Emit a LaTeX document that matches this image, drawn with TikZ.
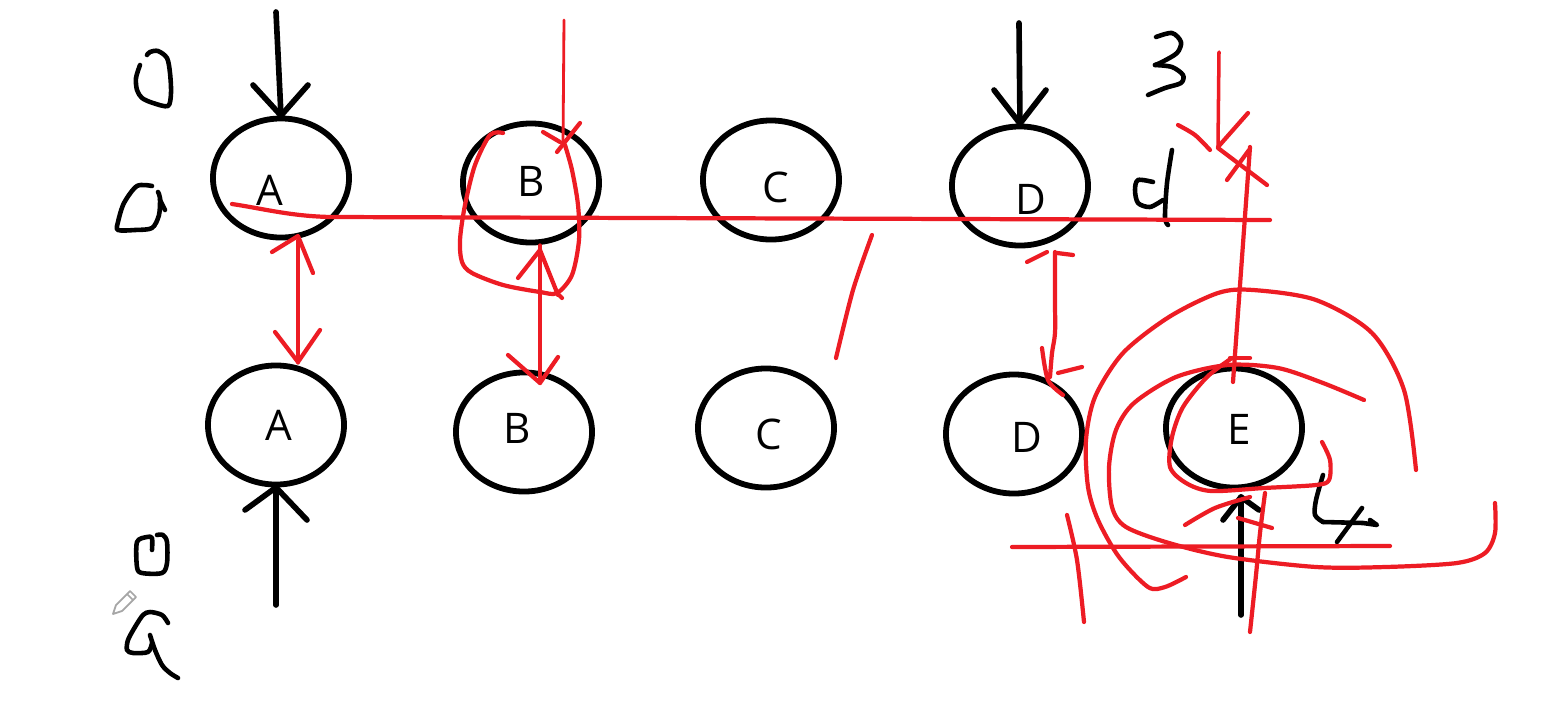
\documentclass[tikz,border=0pt]{standalone}
\usepackage{fontspec}
\setmainfont{Open Sans}
\usetikzlibrary{shapes.geometric}
\definecolor{redink}{RGB}{237,28,36}
\tikzset{
  circ/.style={draw, ellipse, line width=1.65pt, minimum width=1.36cm, minimum height=1.19cm, inner sep=0pt},
  lbl/.style={font=\fontsize{12}{14}\selectfont, inner sep=0pt},
  blk/.style={draw=black, line width=1.6pt, line cap=round, line join=round},
  ink/.style={draw=redink, line width=1.2pt, line cap=round, line join=round},
  thinink/.style={ink, line width=0.8pt},
  hand/.style={draw=black, line width=1.3pt, line cap=round, line join=round},
}
\begin{document}
\begin{tikzpicture}[x=0.01cm,y=-0.01cm]
\useasboundingbox[fill=white] (0,0) rectangle (1551,703);

% ---------- circles ----------
\node[circ] (tA) at (281,178) {};
\node[circ] (tB) at (531,183) {};
\node[circ] (tC) at (771,180) {};
\node[circ] (tD) at (1020,186) {};
\node[circ] (bA) at (276,425) {};
\node[circ] (bB) at (524,432) {};
\node[circ] (bC) at (766,428) {};
\node[circ] (bD) at (1014,434) {};
\node[circ] (bE) at (1234,428) {};

% ---------- letters ----------
\node[lbl] (ltA) at (270,190) {A};
\node[lbl] (ltB) at (531,181) {B};
\node[lbl] (ltC) at (776,187) {C};
\node[lbl] (ltD) at (1031,199) {D};
\node[lbl] (lbA) at (279,425) {A};
\node[lbl] (lbB) at (517,428) {B};
\node[lbl] (lbC) at (769,434) {C};
\node[lbl] (lbD) at (1027,437) {D};
\node[lbl] (lbE) at (1239,429) {E};

% ---------- black arrows ----------
\coordinate (inA) at (276,12);
\coordinate (inD) at (1019,23);
\coordinate (outA) at (276,605);
\coordinate (outE) at (1241,615);
\draw[blk] (inA) -- (tA.north);
\draw[blk] (253,85) -- (tA.north) -- (308,85);
\draw[blk] (inD) -- (tD.north);
\draw[blk] (994,90) -- (tD.north) -- (1046,90);
\draw[blk] (outA) -- (bA.south);
\draw[blk] (245,510) -- (bA.south) -- (307,520);
\draw[blk] (outE) -- (1241,497);
\draw[blk] (1223,520) -- (1241,497) -- (1259,510);

% ---------- handwriting (black) ----------
% 0 (top left)
\draw[hand] plot[smooth] coordinates {(140,65) (136,78) (137,90) (142,98) (153,103) (168,106) (171,93) (170,73) (167,58) (158,51) (150,52) (147,55)};
% a (left)
\draw[hand] plot[smooth] coordinates {(152,186) (137,186) (124,203) (118,222) (118,230) (135,230) (152,228) (159,215) (160,198) (158,192)};
\draw[hand] (160,200) -- (165,210);
% 0 (bottom left)
\draw[hand] plot[smooth] coordinates {(152,550) (152,538) (147,537) (137,542) (137,567) (142,573) (162,573) (167,563) (167,542) (163,535) (157,535)};
% a (bottom left)
\draw[hand] plot[smooth] coordinates {(168,623) (162,615) (150,612) (143,615) (135,627) (128,640) (127,650) (133,653) (148,652) (152,643)};
\draw[hand] plot[smooth] coordinates {(150,635) (155,650) (162,665) (170,673) (178,678)};
% pencil cursor
\draw[gray!70, line width=0.5pt, line join=round] (113,614) -- (116,605) -- (130,591) -- (136,597) -- (122,611) -- cycle;
\draw[gray!70, line width=0.5pt] (127,594) -- (133,600);
% 3
\draw[hand] plot[smooth] coordinates {(1156,37) (1172,33) (1181,42) (1177,53) (1162,62) (1155,65)};
\draw[hand] plot[smooth] coordinates {(1155,65) (1172,67) (1183,75) (1181,83) (1165,88) (1148,95)};
% q-like mark
\draw[hand] plot[smooth] coordinates {(1153,182) (1138,180) (1135,190) (1138,203) (1150,207) (1163,200)};
\draw[hand] plot[smooth] coordinates {(1172,150) (1167,183) (1165,217) (1168,225)};
% 4
\draw[hand] plot[smooth] coordinates {(1323,475) (1316,500) (1315,515) (1323,522)};
\draw[hand] (1323,522) -- (1363,523) -- (1377,525) -- (1370,520);
\draw[hand] (1362,508) -- (1337,542);

% ---------- red annotations ----------
% long horizontal line
\draw[ink] (232,204) .. controls (265,209) and (290,216) .. (330,217) -- (1270,220);
% A double arrow
\draw[ink] (tA.south -| 298,0) -- (bA.north -| 298,0);
\draw[ink] (272,252) -- (298,236) -- (313,273);
\draw[ink] (275,332) -- (298,362) -- (320,330);
% B double arrow
\draw[ink] (tB.south -| 540,0) -- (540,383);
\draw[ink] (518,278) -- (540,250) -- (558,295);
\draw[ink] (508,355) -- (540,383) -- (558,357);
% thin arrow into B top
\draw[thinink] (564,20) -- (563,145);
\draw[ink] (543,132) -- (560,142);
\draw[ink] (580,123) -- (557,152);
% loop round B
\draw[ink] plot[smooth] coordinates {(503,133) (490,135) (475,165) (465,205) (460,240) (462,262) (472,273) (503,285) (540,292) (557,293) (572,275) (579,240) (578,205) (572,170) (565,145)};
\draw[ink] (557,293) -- (562,298);
% slash near C
\draw[ink] plot[smooth] coordinates {(872,235) (853,290) (836,358)};
% D arrow (top to bottom)
\draw[ink] (1027,262) -- (1047,252);
\draw[ink] (1057,253) -- (1073,255);
\draw[ink] plot[smooth] coordinates {(1055,252) (1055,300) (1055,333) (1052,353) (1050,377)};
\draw[ink] plot[smooth] coordinates {(1042,348) (1048,380) (1063,395)};
\draw[ink] (1058,373) -- (1082,367);
% up arrow from E
\draw[ink] (1233,382) -- (1250,147);
\draw[ink] (1227,180) -- (1249,150);
\draw[ink] (1218,148) -- (1267,185);
\draw[ink] (1230,358) -- (1250,358);
% down arrow at 3
\draw[thinink, line width=1pt] (1219,52) -- (1218,146);
\draw[ink] (1248,113) -- (1218,147);
\draw[ink] plot[smooth] coordinates {(1178,125) (1195,135) (1210,150)};
% big outer curve round E
\draw[ink] plot[smooth] coordinates {(1416,470) (1404,390) (1372,333) (1316,300) (1253,290) (1218,293) (1169,317) (1123,353) (1095,397) (1086,440) (1088,487) (1098,520) (1119,557) (1148,587) (1165,587) (1186,577)};
% second curve round E
\draw[ink] plot[smooth] coordinates {(1364,400) (1323,383) (1278,368) (1228,365) (1176,377) (1134,403) (1116,430) (1109,467) (1112,507) (1126,527) (1169,543) (1228,557) (1316,567) (1386,567) (1457,563) (1485,553) (1495,533) (1495,503)};
% inner loop round E
\draw[ink] plot[smooth] coordinates {(1232,358) (1207,377) (1183,407) (1172,437) (1170,467) (1186,483) (1211,491) (1264,488) (1316,485) (1329,480) (1330,460) (1322,442)};
% strokes below E
\draw[ink] plot[smooth] coordinates {(1265,493) (1260,533) (1256,575) (1250,632)};
\draw[ink] plot[smooth] coordinates {(1185,525) (1215,508) (1250,497)};
\draw[ink] (1238,518) -- (1272,528);
\draw[ink] (1012,547) -- (1390,546);
\draw[ink] plot[smooth] coordinates {(1067,515) (1077,560) (1084,622)};
\end{tikzpicture}
\end{document}
